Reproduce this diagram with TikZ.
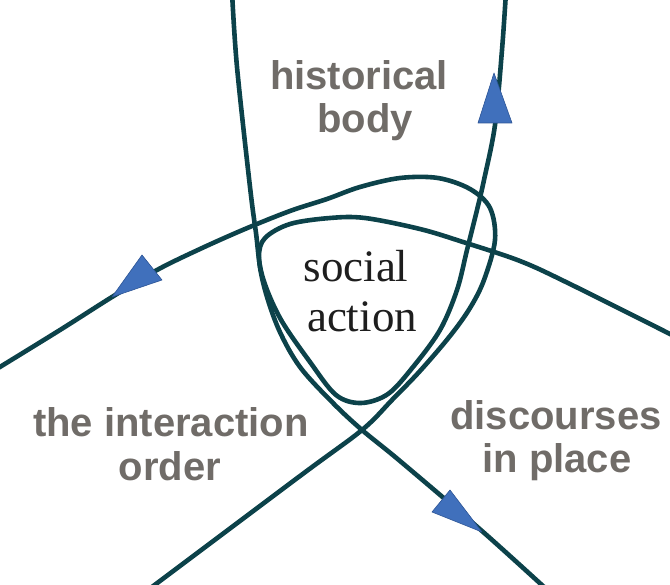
\documentclass[tikz,border=0pt]{standalone}
\usepackage{fontspec}
\newfontfamily\labelfont{Liberation Sans}
\newfontfamily\centerfont{Liberation Serif}
\definecolor{linecol}{RGB}{12,66,74}
\definecolor{arrowcol}{RGB}{64,112,188}
\definecolor{arrowedge}{RGB}{45,85,150}
\definecolor{labelgray}{RGB}{112,108,104}
\definecolor{serifcol}{RGB}{30,30,30}
\tikzset{
  loopline/.style={draw=linecol, line width=4.6pt, line join=round, line cap=round},
  tip/.style={fill=arrowcol, draw=arrowedge, line width=0.6pt, line join=round},
  outerlabel/.style={anchor=base, inner sep=0pt, text=labelgray, font=\labelfont\bfseries\fontsize{40}{43}\selectfont},
  centerlabel/.style={anchor=base, inner sep=0pt, text=serifcol, font=\centerfont\fontsize{45}{50}\selectfont},
}
\begin{document}
\begin{tikzpicture}[x=1pt,y=-1pt]
\useasboundingbox (0,0) rectangle (670,585);
\begin{scope}
\clip (0,0) rectangle (670,585);
% historical body loop
\draw[loopline] plot[smooth, tension=0.55] coordinates {
  (232,-8) (237,67) (250,187) (256,233) (262,275) (280,318) (310,362)
  (336,395) (361,403) (388,394) (413,367) (440,330) (457,290) (467,250)
  (477,210) (484,180) (495,125) (502,50) (506,-8)};
% interaction order loop
\draw[loopline] plot[smooth, tension=0.55] coordinates {
  (140,596) (300,476) (362,430) (392,400) (420,371) (450,336)
  (470,308) (484,280) (495,240) (490,208) (470,189) (438,178) (400,178)
  (360,187) (327,199) (290,211) (245,229) (200,249) (157,270) (112,297)
  (60,330) (-5,370)};
% discourses in place loop
\draw[loopline] plot[smooth, tension=0.55] coordinates {
  (555,597) (482,531) (400,461) (362,430) (333,403) (300,367) (279,330)
  (265,290) (259,257) (265,238) (290,224) (330,218) (365,218) (420,229)
  (463,242) (520,261) (570,284) (680,339)};
\end{scope}
% arrowheads
\draw[tip] (494,73) -- (478,123) -- (512,123) -- cycle;
\draw[tip] (112,297) -- (142,255) -- (162,280) -- cycle;
\draw[tip] (482,532) -- (450,490) -- (432,512) -- cycle;
% labels
\node[outerlabel] (hb1) at (359,90) {historical};
\node[outerlabel] (hb2) at (365,133) {body};
\node[outerlabel] (io1) at (171,437) {the interaction};
\node[outerlabel] (io2) at (170,480) {order};
\node[outerlabel] (dp1) at (556,430) {discourses};
\node[outerlabel] (dp2) at (557,473) {in place};
\node[centerlabel] (sa1) at (356,282) {social};
\node[centerlabel] (sa2) at (362,332) {action};
\end{tikzpicture}
\end{document}
